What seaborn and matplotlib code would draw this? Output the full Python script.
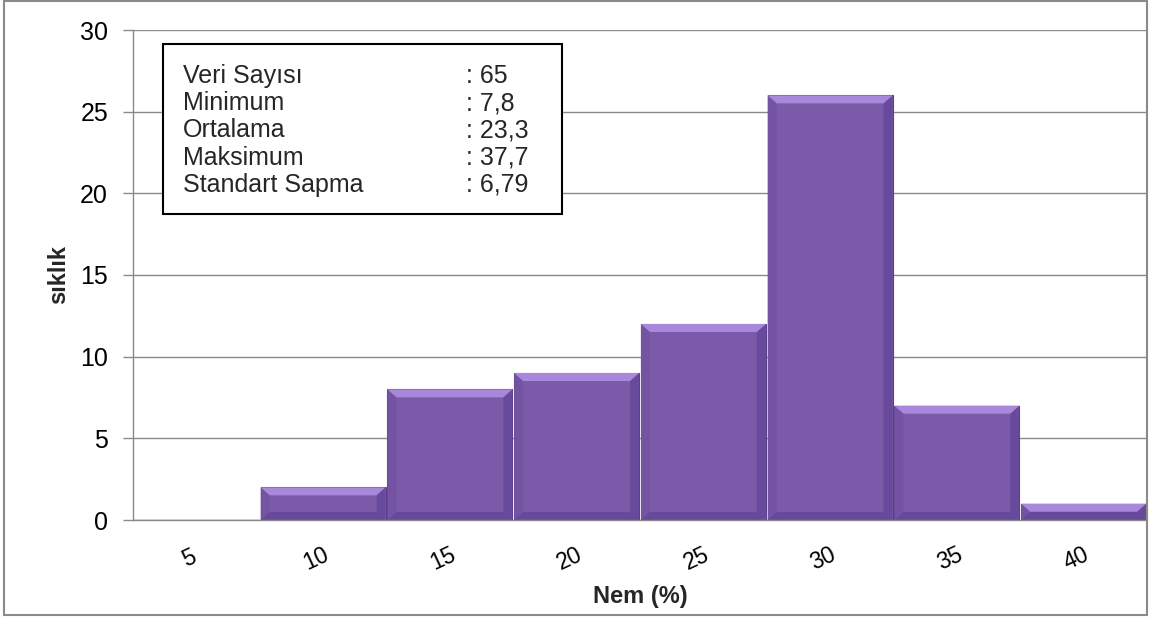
import matplotlib
matplotlib.use("Agg")
import matplotlib.pyplot as plt
import matplotlib.transforms as mtransforms
from matplotlib.patches import Polygon, Rectangle
import seaborn as sns
import pandas as pd

# Humidity class midpoints and their frequencies
nem_classes = ["5", "10", "15", "20", "25", "30", "35", "40"]
frequencies = [0, 2, 8, 9, 12, 26, 7, 1]

# Summary statistics shown in the info box
stat_names = ["Veri Sayısı", "Minimum", "Ortalama", "Maksimum", "Standart Sapma"]
stat_values = [": 65", ": 7,8", ": 23,3", ": 37,7", ": 6,79"]

y_ticks = [0, 5, 10, 15, 20, 25, 30]

sns.set_theme(style="white")
plt.rcParams["font.family"] = ["Liberation Sans", "DejaVu Sans"]

W, H = 1150, 619
AX_L, AX_R, AX_T, AX_B = 133, 1147, 30, 520
fig = plt.figure(figsize=(W / 100, H / 100), dpi=100)
ax = fig.add_axes([AX_L / W, 1 - AX_B / H, (AX_R - AX_L) / W, (AX_B - AX_T) / H])

df = pd.DataFrame({"Nem": nem_classes, "Frekans": frequencies})
sns.barplot(data=df, x="Nem", y="Frekans", order=nem_classes, color="#7c5aaa",
            saturation=1, width=0.985, edgecolor="#5a3f86", linewidth=0.8,
            ax=ax, zorder=3)

ax.set_ylim(0, 30)
ax.set_xlim(-0.5, len(nem_classes) - 0.5)
ax.set_yticks(y_ticks)
ax.yaxis.grid(True, color="#8a8a8a", linewidth=1.0)
ax.set_axisbelow(True)

# Bevel shading on every bar, built from the drawn bar geometry
px_x = len(nem_classes) / (AX_R - AX_L)
px_y = 30 / (AX_B - AX_T)
for p in ax.patches:
    h = p.get_height()
    if h <= 0:
        continue
    x0 = p.get_x()
    x1 = x0 + p.get_width()
    dx, dy = 9 * px_x, 8 * px_y
    dy = min(dy, h / 2)
    top = Polygon([(x0, h), (x1, h), (x1 - dx, h - dy), (x0 + dx, h - dy)],
                  closed=True, facecolor="#a888da", edgecolor="none", zorder=4)
    left = Polygon([(x0, h), (x0 + dx, h - dy), (x0 + dx, dy), (x0, 0)],
                   closed=True, facecolor="#7453a2", edgecolor="none", zorder=4)
    right = Polygon([(x1, h), (x1 - dx, h - dy), (x1 - dx, dy), (x1, 0)],
                    closed=True, facecolor="#684a9c", edgecolor="none", zorder=4)
    bottom = Polygon([(x0, 0), (x1, 0), (x1 - dx, dy), (x0 + dx, dy)],
                     closed=True, facecolor="#67499b", edgecolor="none", zorder=4)
    for poly in (left, right, bottom, top):
        ax.add_patch(poly)

for s in ("top", "right"):
    ax.spines[s].set_visible(False)
for s in ("left", "bottom"):
    ax.spines[s].set_color("#8a8a8a")
    ax.spines[s].set_linewidth(1.0)
    ax.spines[s].set_zorder(5)

ax.tick_params(axis="y", which="major", left=True, length=7, width=1,
               color="#8a8a8a", labelsize=18, pad=11, labelcolor="black")
ax.tick_params(axis="x", bottom=False, labelsize=16.5, pad=22, labelcolor="black")
shift = mtransforms.ScaledTranslation(-7 / 100, 0, fig.dpi_scale_trans)
for lbl in ax.get_xticklabels():
    lbl.set_rotation(25)
    lbl.set_ha("center")
    lbl.set_va("center")
    lbl.set_transform(lbl.get_transform() + shift)

ax.set_xlabel("Nem (%)", fontsize=17, fontweight="bold")
ax.set_ylabel("sıklık", fontsize=17, fontweight="bold")
ax.xaxis.set_label_coords(0.5, -(585 - AX_B) / (AX_B - AX_T))
ax.yaxis.set_label_coords(-(AX_L - 70) / (AX_R - AX_L), 0.5)

# Statistics box
box = Rectangle((163 / W, 1 - 214 / H), 399 / W, 170 / H, transform=fig.transFigure,
                facecolor="white", edgecolor="black", linewidth=1.5, zorder=10)
fig.patches.append(box)
for i, (name, val) in enumerate(zip(stat_names, stat_values)):
    y = 1 - (76 + 27.2 * i) / H
    fig.text(183 / W, y, name, fontsize=18, va="center", ha="left", zorder=11)
    fig.text(466 / W, y, val, fontsize=18, va="center", ha="left", zorder=11)

# Outer chart frame
frame = Rectangle((4 / W, 1 - 615 / H), 1143 / W, 614 / H, transform=fig.transFigure,
                  facecolor="none", edgecolor="#8a8a8a", linewidth=1.5, zorder=12)
fig.patches.append(frame)

fig.savefig("out.png", dpi=100)
